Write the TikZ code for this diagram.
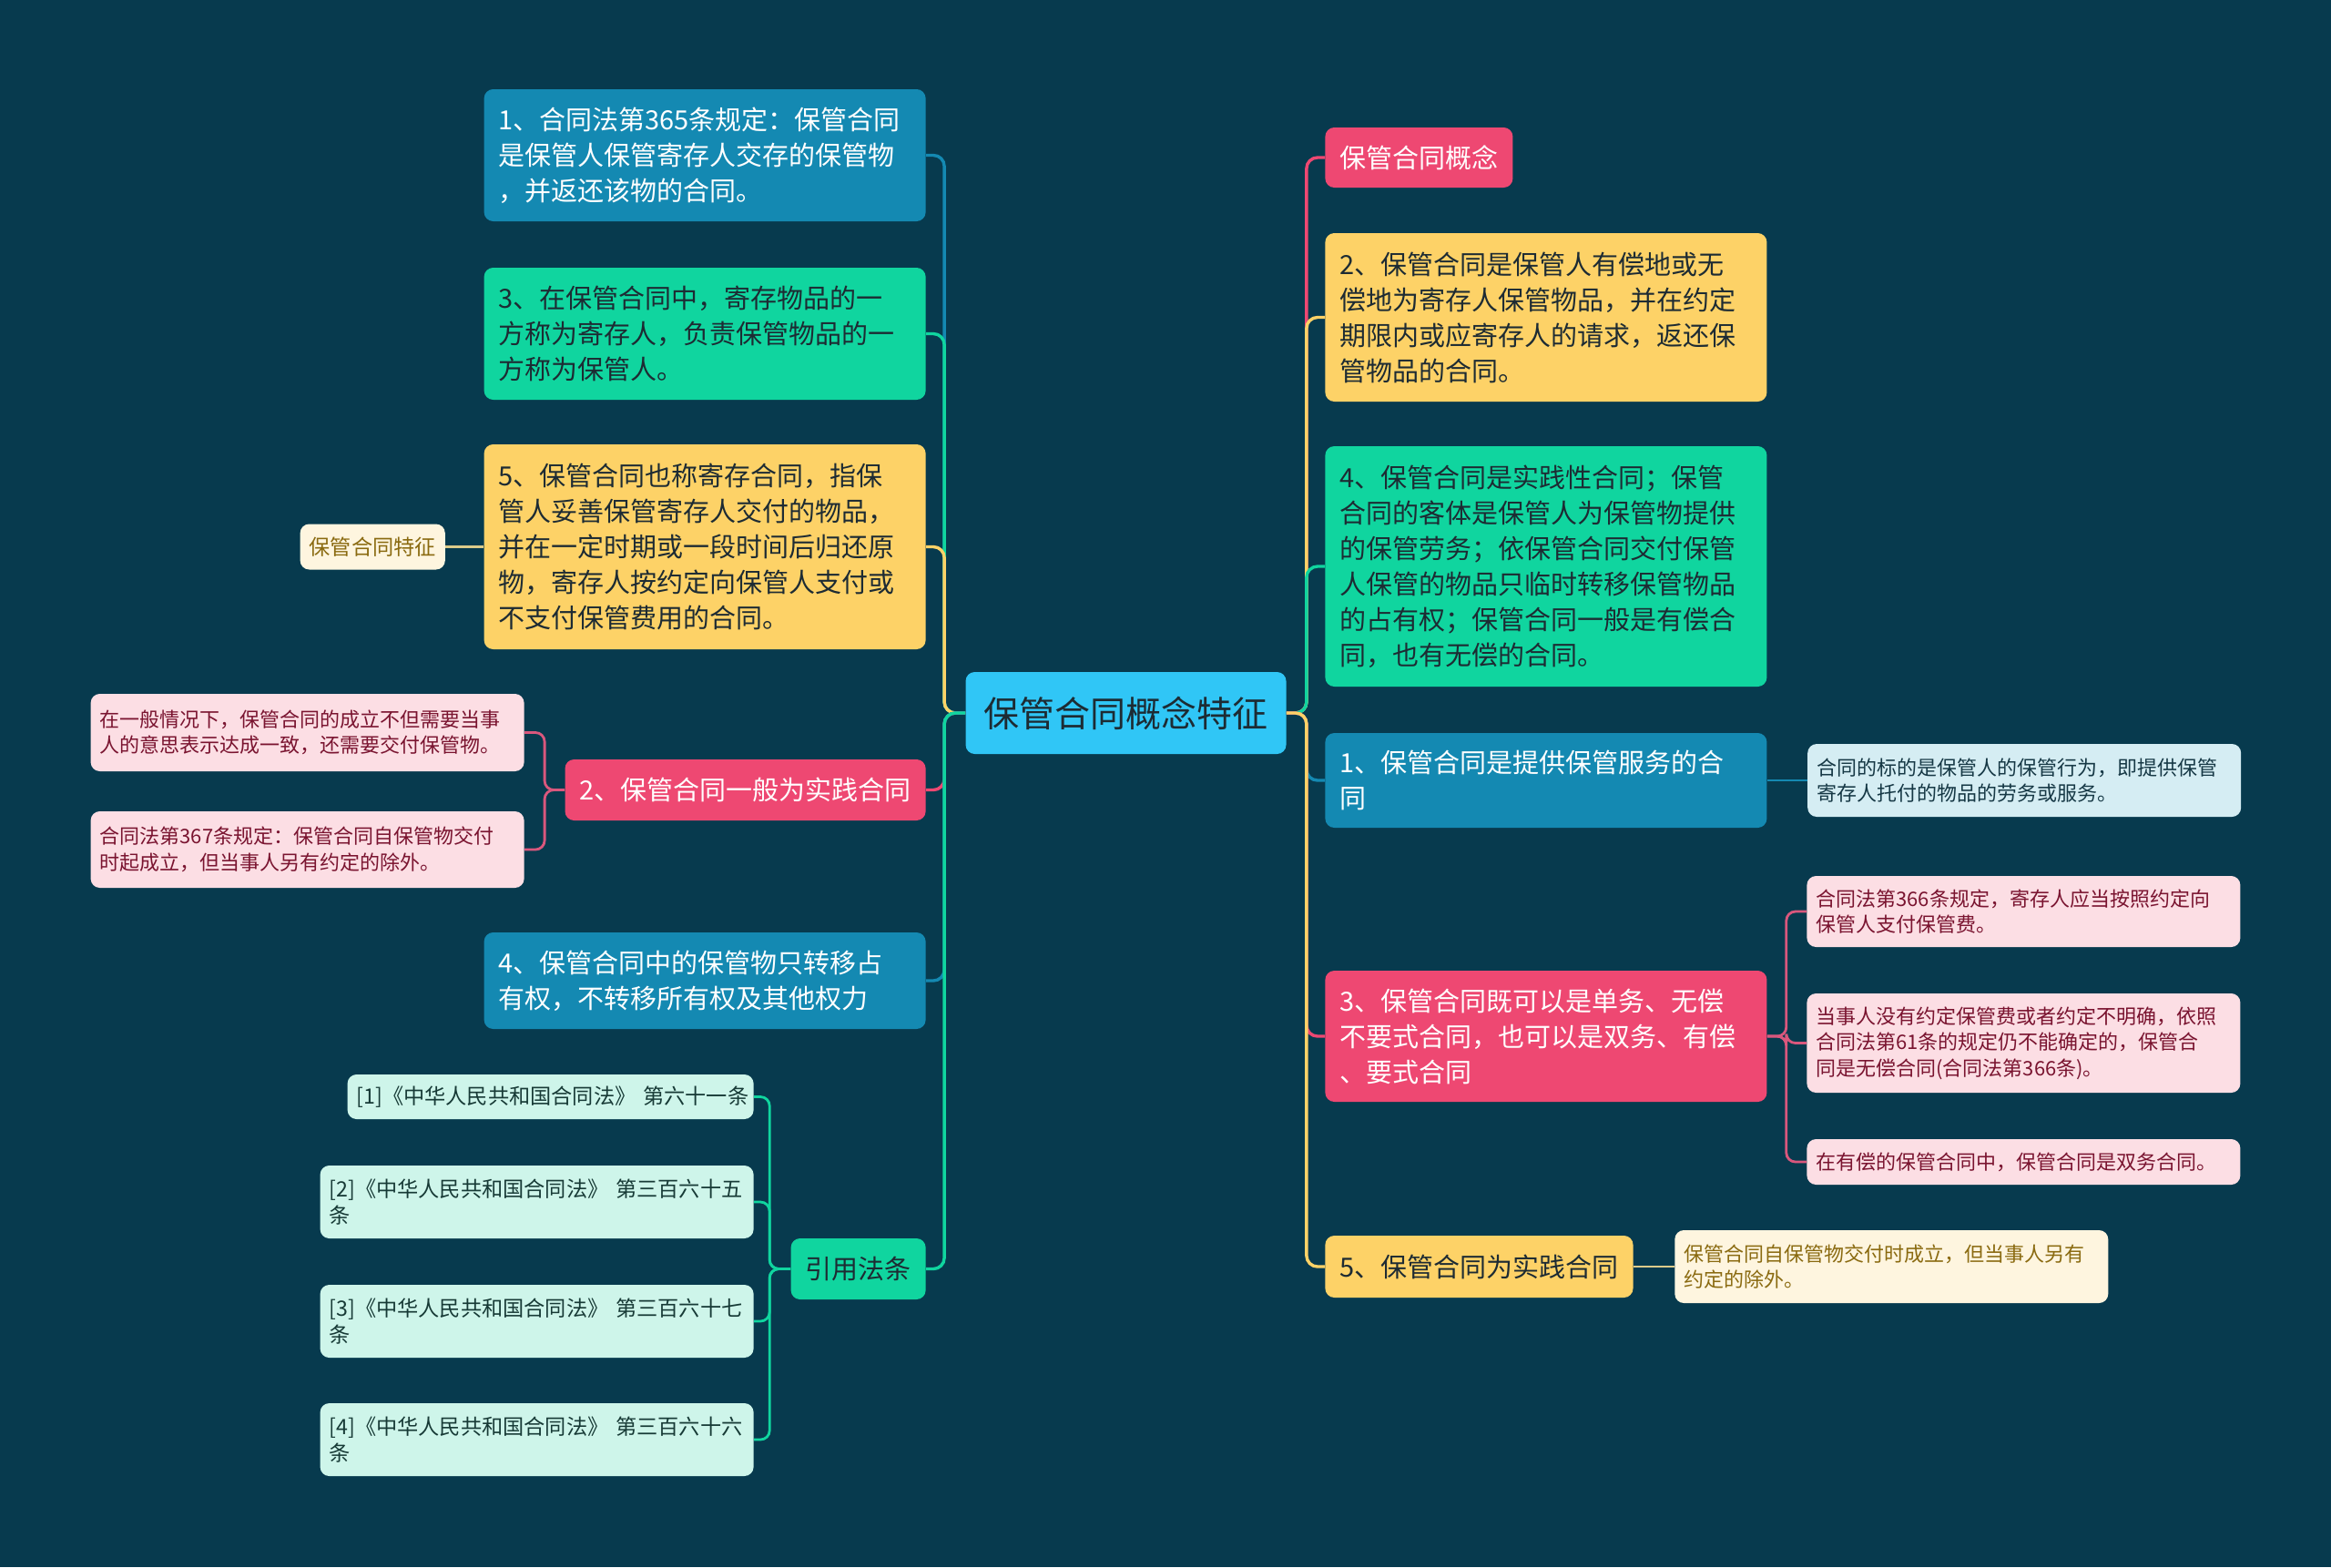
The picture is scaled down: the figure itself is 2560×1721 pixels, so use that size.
\documentclass[tikz,border=0pt]{standalone}
\usepackage{fontspec}
\setmainfont{Noto Sans CJK SC}
\usepackage{tikz}
\usetikzlibrary{positioning}

\definecolor{Backdrop}{HTML}{073A4E}
\definecolor{TopicCyan}{HTML}{30C6F6}
\definecolor{BranchBlue}{HTML}{1489B2}
\definecolor{BranchGreen}{HTML}{10D59F}
\definecolor{BranchYellow}{HTML}{FDD267}
\definecolor{BranchRed}{HTML}{EE4872}
\definecolor{LeafPink}{HTML}{FCDEE4}
\definecolor{InkPink}{HTML}{7A1430}
\definecolor{LeafIce}{HTML}{D5EDF3}
\definecolor{InkIce}{HTML}{163845}
\definecolor{LeafMint}{HTML}{CEF5EA}
\definecolor{InkMint}{HTML}{173A36}
\definecolor{LeafCream}{HTML}{FEF5DF}
\definecolor{InkCream}{HTML}{8A6A10}
\definecolor{Ink}{HTML}{1D2B33}
\definecolor{TwigRed}{HTML}{D9577D}
\definecolor{TwigCream}{HTML}{DCCB8A}

\begin{document}
\begin{tikzpicture}[
  x=0.5pt,y=-0.5pt,
  every node/.style={rounded corners=5pt,align=left,inner ysep=2pt},
  topic/.style={fill=TopicCyan,text=Ink,inner xsep=10pt,minimum height=45pt,
    font=\fontsize{19.5pt}{24pt}\selectfont},
  branch/.style={inner xsep=8pt,text=white,
    font=\fontsize{14.5pt}{19.5pt}\selectfont},
  wide/.style={text width=226.5pt},
  blueb/.style={branch,fill=BranchBlue},
  greenb/.style={branch,fill=BranchGreen,text=Ink},
  yellowb/.style={branch,fill=BranchYellow,text=Ink},
  redb/.style={branch,fill=BranchRed},
  leaf/.style={inner xsep=5pt,font=\fontsize{11pt}{14.3pt}\selectfont,
    text width=228pt},
  pinkleaf/.style={leaf,fill=LeafPink,text=InkPink},
  iceleaf/.style={leaf,fill=LeafIce,text=InkIce},
  mintleaf/.style={leaf,fill=LeafMint,text=InkMint,
    font=\fontsize{11.6pt}{14.3pt}\selectfont},
  creamleaf/.style={leaf,fill=LeafCream,text=InkCream},
  link/.style={line width=1.7pt,rounded corners=6pt},
  twig/.style={line width=1.4pt,rounded corners=5pt}
  ]

  \fill[Backdrop] (0,0) rectangle (2560,1721);

  \node[topic] (c) at (1236.5,783) {保管合同概念特征};

  % left side
  \node[blueb,wide,anchor=east,minimum height=72.5pt] (l1) at (1017,170.5)
    {1、合同法第365条规定：保管合同\\是保管人保管寄存人交存的保管物\\，并返还该物的合同。};
  \node[greenb,wide,anchor=east,minimum height=72.5pt] (l3) at (1017,366.5)
    {3、在保管合同中，寄存物品的一\\方称为寄存人，负责保管物品的一\\方称为保管人。};
  \node[yellowb,wide,anchor=east,minimum height=112.5pt] (l5) at (1017,600.5)
    {5、保管合同也称寄存合同，指保\\管人妥善保管寄存人交付的物品，\\并在一定时期或一段时间后归还原\\物，寄存人按约定向保管人支付或\\不支付保管费用的合同。};
  \node[creamleaf,text width=,inner xsep=5pt,minimum height=25pt,
    font=\fontsize{11.6pt}{14.3pt}\selectfont,left=21pt of l5]
    (feat) {保管合同特征};
  \node[redb,anchor=east,minimum height=33.5pt] (l2) at (1017,867.5)
    {2、保管合同一般为实践合同};
  \node[pinkleaf,anchor=east,minimum height=42.5pt] (l2a) at (576,804.5)
    {在一般情况下，保管合同的成立不但需要当事\\人的意思表示达成一致，还需要交付保管物。};
  \node[pinkleaf,anchor=east,minimum height=42pt] (l2b) at (576,933)
    {合同法第367条规定：保管合同自保管物交付\\时起成立，但当事人另有约定的除外。};
  \node[blueb,wide,anchor=east,minimum height=53pt] (l4) at (1017,1077)
    {4、保管合同中的保管物只转移占\\有权，不转移所有权及其他权力};
  \node[greenb,anchor=east,minimum height=33.5pt] (law) at (1017,1393.5)
    {引用法条};
  \node[mintleaf,text width=213pt,anchor=east,minimum height=24.5pt] (law1) at (828,1204.5)
    {[1]《中华人民共和国合同法》~第六十一条};
  \node[mintleaf,anchor=east,minimum height=40pt] (law2) at (828,1320)
    {[2]《中华人民共和国合同法》~第三百六十五\\条};
  \node[mintleaf,anchor=east,minimum height=40pt] (law3) at (828,1451)
    {[3]《中华人民共和国合同法》~第三百六十七\\条};
  \node[mintleaf,anchor=east,minimum height=40pt] (law4) at (828,1581)
    {[4]《中华人民共和国合同法》~第三百六十六\\条};

  % right side
  \node[redb,anchor=west,minimum height=33pt] (r0) at (1455,173)
    {保管合同概念};
  \node[yellowb,wide,anchor=west,minimum height=92.5pt] (r2) at (1455,348.5)
    {2、保管合同是保管人有偿地或无\\偿地为寄存人保管物品，并在约定\\期限内或应寄存人的请求，返还保\\管物品的合同。};
  \node[greenb,wide,anchor=west,minimum height=132pt] (r4) at (1455,622)
    {4、保管合同是实践性合同；保管\\合同的客体是保管人为保管物提供\\的保管劳务；依保管合同交付保管\\人保管的物品只临时转移保管物品\\的占有权；保管合同一般是有偿合\\同，也有无偿的合同。};
  \node[blueb,wide,anchor=west,minimum height=52pt] (r1) at (1455,857)
    {1、保管合同是提供保管服务的合\\同};
  \node[iceleaf,minimum height=40pt,right=22pt of r1] (r1a)
    {合同的标的是保管人的保管行为，即提供保管\\寄存人托付的物品的劳务或服务。};
  \node[redb,wide,anchor=west,minimum height=72pt] (r3) at (1455,1138)
    {3、保管合同既可以是单务、无偿\\不要式合同，也可以是双务、有偿\\、要式合同};
  \node[pinkleaf,anchor=west,minimum height=39pt] (r3a) at (1984,1001)
    {合同法第366条规定，寄存人应当按照约定向\\保管人支付保管费。};
  \node[pinkleaf,anchor=west,minimum height=54.5pt] (r3b) at (1984,1145.5)
    {当事人没有约定保管费或者约定不明确，依照\\合同法第61条的规定仍不能确定的，保管合\\同是无偿合同(合同法第366条)。};
  \node[pinkleaf,anchor=west,minimum height=25pt] (r3c) at (1984,1276)
    {在有偿的保管合同中，保管合同是双务合同。};
  \node[yellowb,anchor=west,minimum height=34pt] (r5) at (1455,1391)
    {5、保管合同为实践合同};
  \node[creamleaf,minimum height=40pt,right=22.5pt of r5] (r5a)
    {保管合同自保管物交付时成立，但当事人另有\\约定的除外。};

  % links from the topic
  \draw[link,BranchBlue]   (c.west) -- ++(-23,0) |- (l1.east);
  \draw[link,BranchGreen]  (c.west) -- ++(-23,0) |- (l3.east);
  \draw[link,BranchYellow] (c.west) -- ++(-23,0) |- (l5.east);
  \draw[link,BranchRed]    (c.west) -- ++(-23,0) |- (l2.east);
  \draw[link,BranchBlue]   (c.west) -- ++(-23,0) |- (l4.east);
  \draw[link,BranchGreen]  (c.west) -- ++(-23,0) |- (law.east);
  \draw[link,BranchRed]    (c.east) -- ++(22,0) |- (r0.west);
  \draw[link,BranchYellow] (c.east) -- ++(22,0) |- (r2.west);
  \draw[link,BranchGreen]  (c.east) -- ++(22,0) |- (r4.west);
  \draw[link,BranchBlue]   (c.east) -- ++(22,0) |- (r1.west);
  \draw[link,BranchRed]    (c.east) -- ++(22,0) |- (r3.west);
  \draw[link,BranchYellow] (c.east) -- ++(22,0) |- (r5.west);

  % twigs to the leaves
  \draw[twig,TwigCream] (l5.west) -- (feat.east);
  \draw[twig,TwigRed] (l2.west) -- ++(-22,0) |- (l2a.east);
  \draw[twig,TwigRed] (l2.west) -- ++(-22,0) |- (l2b.east);
  \foreach \n in {law1,law2,law3,law4}
    \draw[twig,BranchGreen] (law.west) -- ++(-23,0) |- (\n.east);
  \draw[twig,BranchBlue] (r1.east) -- (r1a.west);
  \foreach \n in {r3a,r3b,r3c}
    \draw[twig,TwigRed] (r3.east) -- ++(21,0) |- (\n.west);
  \draw[twig,TwigCream] (r5.east) -- (r5a.west);
\end{tikzpicture}
\end{document}
